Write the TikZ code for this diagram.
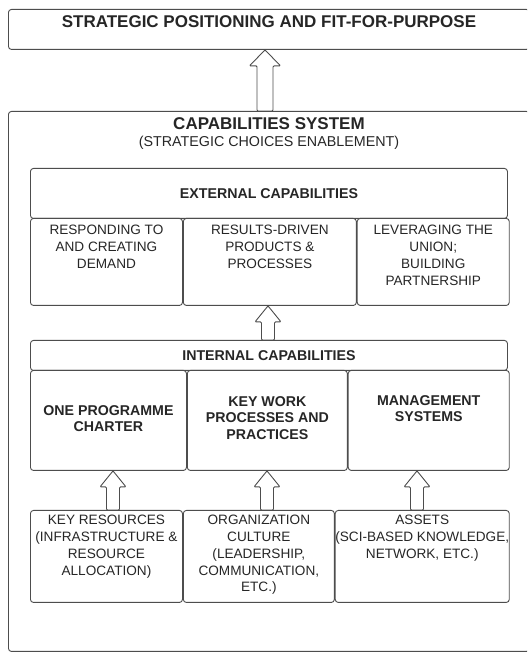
\documentclass[tikz,border=0pt]{standalone}
\usepackage{fontspec}
\setmainfont{Liberation Sans}
\usetikzlibrary{positioning,calc}

\definecolor{linegray}{HTML}{4D4D4D}
\definecolor{textgray}{HTML}{262626}

% hollow block arrow: x position, lower anchor, upper anchor, shaft half width, head half width
\newcommand{\blockup}[5]{%
  \draw[blockarrow] let \p1=(#2), \p2=(#3) in
    (#1pt-#4pt,\y1) -- (#1pt-#4pt,\y2-16pt) -- (#1pt-#5pt,\y2-16pt) -- (#1pt,\y2)
    -- (#1pt+#5pt,\y2-16pt) -- (#1pt+#4pt,\y2-16pt) -- (#1pt+#4pt,\y1) -- cycle;}

\tikzset{
  box/.style={draw=linegray, line width=0.9pt, rounded corners=3pt, inner sep=0pt},
  blockarrow/.style={draw=linegray, line width=0.9pt, fill=white, rounded corners=1pt},
  titletxt/.style={font=\fontsize{17}{20}\selectfont\bfseries, text=textgray, inner sep=0pt},
  subtxt/.style={font=\fontsize{14.3}{17}\selectfont, text=textgray, inner sep=0pt},
  headtxt/.style={font=\fontsize{14.2}{16.8}\selectfont\bfseries, text=textgray, align=center},
  bodytxt/.style={font=\fontsize{13.6}{16.8}\selectfont, text=textgray, align=center, inner sep=0pt},
  boldtxt/.style={bodytxt, font=\fontsize{14.2}{16.8}\selectfont\bfseries},
}

\begin{document}
\begin{tikzpicture}[x=1pt,y=1pt]
\useasboundingbox (0,0) rectangle (527,652);
\clip (0,0) rectangle (527,652);
\fill[white] (0,0) rectangle (527,652);

%Shape: Rectangle [strategic positioning]
\node[box, minimum width=521pt, minimum height=40pt, anchor=north west] (strat) at (8,643) {};
% Text Node
\node[titletxt, below=6pt of strat.north] (strattxt) {STRATEGIC POSITIONING AND FIT-FOR-PURPOSE};

%Shape: Rectangle [capabilities system]
\node[box, minimum width=521pt, minimum height=540pt, anchor=north west] (capsys) at (8,541) {};
% Text Node
\node[titletxt, below=6pt of capsys.north] (captxt) {CAPABILITIES SYSTEM};
\node[subtxt, below=7pt of captxt] (capsub) {(STRATEGIC CHOICES ENABLEMENT)};

%Shape: Rectangle [external capabilities]
\node[box, headtxt, minimum width=477pt, minimum height=50pt, anchor=north west] (ext) at (30,484) {EXTERNAL CAPABILITIES};
\node[box, minimum width=152pt, minimum height=87pt, anchor=north west] (demand) at (30,434) {};
\node[box, minimum width=173pt, minimum height=87pt, right=0pt of demand] (results) {};
\node[box, minimum width=152pt, minimum height=87pt, right=0pt of results] (union) {};
% Text Node
\node[bodytxt, below=7pt of demand.north] (demandtxt) {RESPONDING TO\\AND CREATING\\DEMAND};
\node[bodytxt, below=7pt of results.north] (resultstxt) {RESULTS-DRIVEN\\PRODUCTS \&\\PROCESSES};
\node[bodytxt, below=7pt of union.north] (uniontxt) {LEVERAGING THE\\UNION;\\BUILDING\\PARTNERSHIP};

%Shape: Rectangle [internal capabilities]
\node[box, headtxt, minimum width=477pt, minimum height=30pt, anchor=north west] (int) at (30,312) {INTERNAL CAPABILITIES};
\node[box, minimum width=156pt, minimum height=100pt, anchor=north west] (charter) at (30,282) {};
\node[box, minimum width=160pt, minimum height=100pt, right=0pt of charter] (kwp) {};
\node[box, minimum width=161pt, minimum height=100pt, right=0pt of kwp] (mgmt) {};
% Text Node
\node[boldtxt, below=35pt of charter.north] (chartertxt) {ONE PROGRAMME\\CHARTER};
\node[boldtxt, below=26pt of kwp.north] (kwptxt) {KEY WORK\\PROCESSES AND\\PRACTICES};
\node[boldtxt, below=25pt of mgmt.north] (mgmttxt) {MANAGEMENT\\SYSTEMS};

%Shape: Rectangle [resources, culture, assets]
\node[box, minimum width=152pt, minimum height=92pt, anchor=north west] (res) at (30,142) {};
\node[box, minimum width=151pt, minimum height=92pt, right=0pt of res] (culture) {};
\node[box, minimum width=174pt, minimum height=92pt, right=0pt of culture] (assets) {};
% Text Node
\node[bodytxt, below=5pt of res.north] (restxt) {KEY RESOURCES\\(INFRASTRUCTURE \&\\RESOURCE\\ALLOCATION)};
\node[bodytxt, below=5pt of culture.north] (culturetxt) {ORGANIZATION\\CULTURE\\(LEADERSHIP,\\COMMUNICATION,\\ETC.)};
\node[bodytxt, below=5pt of assets.north] (assetstxt) {ASSETS\\(SCI-BASED KNOWLEDGE,\\NETWORK, ETC.)};

%Right Arrow [block arrows]
\blockup{265}{capsys.north}{strat.south}{8}{15.5}
\blockup{268}{int.north}{results.south}{6.5}{13}
\blockup{113}{res.north}{charter.south}{6.5}{13}
\blockup{267}{culture.north}{kwp.south}{6.5}{13}
\blockup{417}{assets.north}{mgmt.south}{6.5}{13}

\end{tikzpicture}
\end{document}
